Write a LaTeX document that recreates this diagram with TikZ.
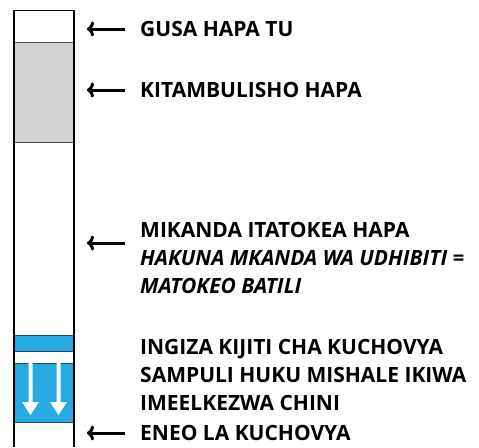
\documentclass[tikz,border=0pt]{standalone}
\usepackage{fontspec}
\setmainfont{Open Sans}
\usetikzlibrary{arrows.meta}
\definecolor{stripgrey}{HTML}{D1D2D4}
\definecolor{stripblue}{HTML}{27AAE1}
\definecolor{lineblue}{HTML}{1F4A5C}
\tikzset{
  x=1pt, y=-1pt,
  lbl/.style={anchor=west, inner sep=0pt, font=\fontsize{21}{28}\selectfont\bfseries, align=left},
  pointer/.style={line width=3pt, -{To[length=7pt,width=15pt]}},
  sep/.style={line width=1pt, draw=lineblue},
  down/.style={draw=none, fill=white}
}
\begin{document}
\begin{tikzpicture}
\useasboundingbox (0,0) rectangle (479,447);
% strip fills
\fill[stripgrey] (14,42) rectangle (74,142);
\fill[stripblue] (14,335) rectangle (74,351);
\fill[stripblue] (14,363) rectangle (74,422);
% separators
\draw[line width=1pt] (14,10) -- (74,10);
\draw[sep, draw=black!70] (14,42) -- (74,42);
\draw[sep, draw=black!70] (14,142) -- (74,142);
\draw[sep] (14,335) -- (74,335);
\draw[sep] (14,351) -- (74,351);
\draw[sep] (14,363) -- (74,363);
\draw[sep] (14,422) -- (74,422);
% sides
\draw[line width=1.3pt] (14,10) -- (14,447);
\draw[line width=1.3pt] (74,10) -- (74,447);
% white down arrows
\fill[down] (28.5,362.5) -- (32.5,362.5) -- (32.5,402) -- (39,402) -- (30.5,415) -- (22,402) -- (28.5,402) -- cycle;
\fill[down] (56.5,362.5) -- (60.5,362.5) -- (60.5,402) -- (67,402) -- (58.5,415) -- (50,402) -- (56.5,402) -- cycle;
% labels
\node[lbl] (t1) at (140,29) {GUSA HAPA TU};
\node[lbl] (t2) at (140,90) {KITAMBULISHO HAPA};
\node[lbl] (t3) at (140,258) {MIKANDA ITATOKEA HAPA\\\itshape HAKUNA MKANDA WA UDHIBITI =\\\itshape MATOKEO BATILI};
\node[lbl] (t4) at (140,375) {INGIZA KIJITI CHA KUCHOVYA\\SAMPULI HUKU MISHALE IKIWA\\IMEELKEZWA CHINI};
\node[lbl] (t5) at (140,433) {ENEO LA KUCHOVYA};
% pointers
\coordinate (p1) at (87,29);
\coordinate (p2) at (87,90);
\coordinate (p3) at (87,243);
\coordinate (p5) at (87,433);
\draw[pointer] (t1.west) ++(-15,0) -- (p1);
\draw[pointer] (t2.west) ++(-15,0) -- (p2);
\draw[pointer] (125,243) -- (p3);
\draw[pointer] (t5.west) ++(-15,0) -- (p5);
\end{tikzpicture}
\end{document}
